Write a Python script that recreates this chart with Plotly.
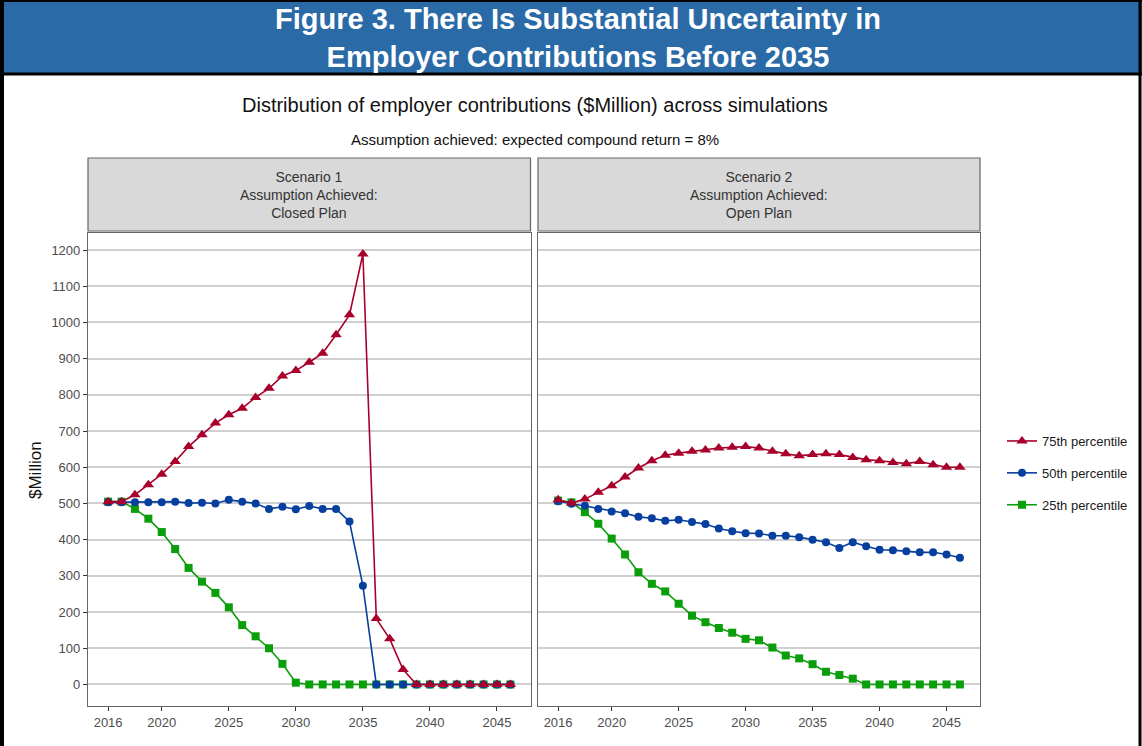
import plotly.graph_objects as go

years = list(range(2016, 2047))

# Scenario 1 (Closed Plan)
s1_p75 = [505, 505, 524, 552, 581, 616, 657, 690, 722, 745, 763, 793, 818, 852, 867, 890,
          915, 966, 1021, 1189, 182, 126, 41, 0, 0, 0, 0, 0, 0, 0, 0]
s1_p50 = [503, 503, 503, 503, 503, 505, 501, 502, 500, 510, 505, 500, 485, 491, 484, 493,
          485, 485, 450, 273, 0, 0, 0, 0, 0, 0, 0, 0, 0, 0, 0]
s1_p25 = [505, 505, 485, 458, 421, 374, 322, 284, 253, 213, 164, 133, 100, 57, 5, 0,
          0, 0, 0, 0, 0, 0, 0, 0, 0, 0, 0, 0, 0, 0, 0]

# Scenario 2 (Open Plan)
s2_p75 = [510, 501, 512, 531, 549, 573, 598, 618, 633, 639, 644, 648, 653, 655, 657, 653,
          644, 637, 632, 635, 637, 635, 627, 621, 618, 613, 610, 616, 607, 600, 600]
s2_p50 = [506, 499, 494, 485, 478, 473, 463, 459, 452, 455, 449, 443, 431, 423, 418, 417,
          411, 411, 407, 400, 393, 377, 393, 382, 372, 371, 368, 365, 365, 359, 350]
s2_p25 = [508, 503, 476, 444, 403, 359, 310, 278, 257, 223, 190, 172, 156, 143, 126, 122,
          102, 80, 72, 56, 35, 26, 16, 0, 0, 0, 0, 0, 0, 0, 0]

series_names = ["75th percentile", "50th percentile", "25th percentile"]
colors = {"75th percentile": "#a8002b", "50th percentile": "#073f9e", "25th percentile": "#0a9e0a"}
symbols = {"75th percentile": "triangle-up", "50th percentile": "circle", "25th percentile": "square"}
sizes = {"75th percentile": 10, "50th percentile": 8, "25th percentile": 8}

y_ticks = list(range(0, 1201, 100))
x_ticks = [2016, 2020, 2025, 2030, 2035, 2040, 2045]

panel_titles = ["Scenario 1<br>Assumption Achieved:<br>Closed Plan",
                "Scenario 2<br>Assumption Achieved:<br>Open Plan"]

FONT = "Liberation Sans Narrow, Arial Narrow, Liberation Sans, Arial, sans-serif"
W, H = 1142, 746

def px_x(p):
    return p / W

def px_y(p):
    return 1 - p / H

fig = go.Figure()

data = {
    1: {"75th percentile": s1_p75, "50th percentile": s1_p50, "25th percentile": s1_p25},
    2: {"75th percentile": s2_p75, "50th percentile": s2_p50, "25th percentile": s2_p25},
}

rank = {"75th percentile": 1, "50th percentile": 2, "25th percentile": 3}
for panel in (1, 2):
    for name in ["25th percentile", "50th percentile", "75th percentile"]:
        fig.add_trace(go.Scatter(
            x=years, y=data[panel][name], mode="lines+markers", name=name,
            line=dict(color=colors[name], width=1.6),
            marker=dict(symbol=symbols[name], size=sizes[name], color=colors[name]),
            xaxis="x" if panel == 1 else "x2", yaxis="y" if panel == 1 else "y2",
            showlegend=(panel == 1), legendgroup=name, legendrank=rank[name],
        ))

x1_dom = [px_x(88), px_x(530.5)]
x2_dom = [px_x(538), px_x(980)]
y_dom = [px_y(706), px_y(232.5)]

axis_common = dict(range=[2014.5, 2047.5], showgrid=False, zeroline=False,
                   showline=True, linecolor="#666666", linewidth=1.2, mirror=True,
                   ticks="outside", ticklen=4, tickcolor="#333333", tickvals=x_ticks,
                   tickfont=dict(family=FONT, size=13, color="#4d4d4d"))
yaxis_common = dict(range=[-59.5, 1248.5], showgrid=True, gridcolor="#d0d0d0", gridwidth=1.5,
                    zeroline=False, showline=True, linecolor="#666666", linewidth=1.2,
                    mirror=True, tickvals=y_ticks,
                    tickfont=dict(family=FONT, size=13, color="#4d4d4d"))

fig.update_layout(
    width=W, height=H, margin=dict(l=0, r=0, t=0, b=0),
    paper_bgcolor="white", plot_bgcolor="white",
    xaxis=dict(domain=x1_dom, anchor="y", **axis_common),
    xaxis2=dict(domain=x2_dom, anchor="y2", **axis_common),
    yaxis=dict(domain=y_dom, anchor="x", ticks="outside", ticklen=4, tickcolor="#333333",
               **yaxis_common),
    yaxis2=dict(domain=y_dom, anchor="x2", showticklabels=False, ticks="", **yaxis_common),
    legend=dict(x=px_x(1002), y=px_y(426), xanchor="left", yanchor="top",
                font=dict(family=FONT, size=13, color="#1a1a1a"),
                tracegroupgap=12, bgcolor="rgba(0,0,0,0)"),
    showlegend=True,
)

shapes = []
# header band
shapes.append(dict(type="rect", xref="paper", yref="paper", x0=0, x1=1, y0=px_y(74), y1=1,
                   fillcolor="#2a6aa6", line=dict(width=0), layer="below"))
shapes.append(dict(type="line", xref="paper", yref="paper", x0=0, x1=1, y0=px_y(74), y1=px_y(74),
                   line=dict(color="black", width=3)))
shapes.append(dict(type="line", xref="paper", yref="paper", x0=0, x1=1, y0=px_y(1), y1=px_y(1),
                   line=dict(color="black", width=2)))
# left and right frame
shapes.append(dict(type="line", xref="paper", yref="paper", x0=px_x(2), x1=px_x(2), y0=0, y1=1,
                   line=dict(color="black", width=4)))
shapes.append(dict(type="line", xref="paper", yref="paper", x0=px_x(1140), x1=px_x(1140), y0=0, y1=1,
                   line=dict(color="black", width=3)))
# strips
for dom in (x1_dom, x2_dom):
    shapes.append(dict(type="rect", xref="paper", yref="paper", x0=dom[0], x1=dom[1],
                       y0=px_y(231), y1=px_y(158), fillcolor="#d9d9d9",
                       line=dict(color="#666666", width=1.2)))
fig.update_layout(shapes=shapes)

annotations = [
    dict(text="<b>Figure 3. There Is Substantial Uncertainty in<br>Employer Contributions Before 2035</b>",
         x=px_x(578), y=px_y(38), xref="paper", yref="paper", showarrow=False,
         font=dict(family=FONT, size=29, color="white"), xanchor="center", yanchor="middle"),
    dict(text="Distribution of employer contributions ($Million) across simulations",
         x=px_x(535), y=px_y(105), xref="paper", yref="paper", showarrow=False,
         font=dict(family=FONT, size=20, color="#111111"), xanchor="center", yanchor="middle"),
    dict(text="Assumption achieved: expected compound return = 8%",
         x=px_x(535), y=px_y(139), xref="paper", yref="paper", showarrow=False,
         font=dict(family=FONT, size=15, color="#111111"), xanchor="center", yanchor="middle"),
    dict(text="$Million", x=px_x(35), y=px_y(470), xref="paper", yref="paper", showarrow=False,
         textangle=-90, font=dict(family=FONT, size=17, color="#111111"),
         xanchor="center", yanchor="middle"),
]
for dom, t in zip((x1_dom, x2_dom), panel_titles):
    annotations.append(dict(text=t, x=(dom[0] + dom[1]) / 2, y=px_y(194.5), xref="paper",
                            yref="paper", showarrow=False,
                            font=dict(family=FONT, size=14, color="#333333"),
                            xanchor="center", yanchor="middle"))
fig.update_layout(annotations=annotations)

fig.write_html("out.html", config={"displayModeBar": False},
               post_script="document.body.style.margin='0';document.body.style.overflow='hidden';")
